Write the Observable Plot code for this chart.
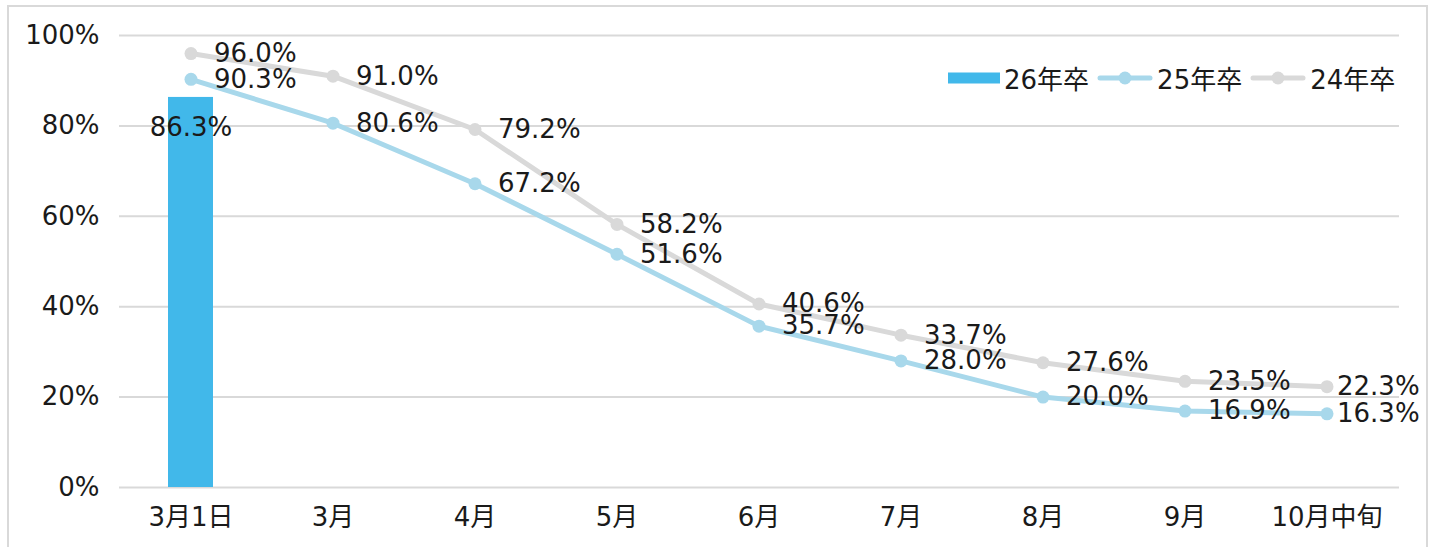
<!DOCTYPE html>
<html><head><meta charset="utf-8">
<script src="https://cdn.jsdelivr.net/npm/d3@7"></script>
<script src="https://cdn.jsdelivr.net/npm/@observablehq/plot@0.6"></script>
<style>
html,body{margin:0;padding:0;background:#fff;overflow:hidden;}
#wrap{position:relative;width:1435px;height:547px;font-family:"DejaVu Sans","Noto Sans CJK JP",sans-serif;}
#frame{position:absolute;left:7px;top:5px;width:1421px;height:600px;border:2px solid #d9d9d9;box-sizing:border-box;pointer-events:none;}
#legend{position:absolute;left:948px;top:59px;display:flex;align-items:center;font-size:26px;color:#1a1a1a;white-space:nowrap;}
#legend .item{display:flex;align-items:center;margin-right:8px;}
#legend svg{display:block;margin-right:4px;}
</style></head>
<body><div id="wrap"><div id="frame"></div><div id="legend"></div></div>
<script>
const categories = ["3月1日","3月","4月","5月","6月","7月","8月","9月","10月中旬"];
const seriesNames = ["26年卒","25年卒","24年卒"];
const grad26 = [86.3];
const grad25 = [90.3, 80.6, 67.2, 51.6, 35.7, 28.0, 20.0, 16.9, 16.3];
const grad24 = [96.0, 91.0, 79.2, 58.2, 40.6, 33.7, 27.6, 23.5, 22.3];
const yTicks = [0, 20, 40, 60, 80, 100];
const colors = {"26年卒":"#41b8ea","25年卒":"#a8d8eb","24年卒":"#d9d9d9"};

const barData = grad26.map((v,i)=>({cat:categories[i], v}));
const toRows = (arr, s) => arr.map((v,i)=>({cat:categories[i], v, s, last: i===arr.length-1}));
const d25 = toRows(grad25, "25年卒");
const d24 = toRows(grad24, "24年卒");
const fmt = v => v.toFixed(1) + "%";
const font = '"DejaVu Sans","Noto Sans CJK JP",sans-serif';

const chart = Plot.plot({
  width: 1435, height: 547,
  marginTop: 35, marginBottom: 60, marginLeft: 119, marginRight: 36,
  style: {fontFamily: font, fontSize: "26px", color: "#1a1a1a", background: "transparent", overflow: "visible"},
  x: {domain: categories, paddingInner: 0.68, paddingOuter: 0.34, label: null, tickSize: 0, tickPadding: 20},
  y: {domain: [0, 100], ticks: yTicks, label: null, tickSize: 0, tickPadding: 20, tickFormat: d => d + "%"},
  marks: [
    Plot.gridY(yTicks, {stroke: "#d9d9d9", strokeOpacity: 1, strokeWidth: 2}),
    Plot.barY(barData, {x: "cat", y: "v", fill: colors["26年卒"]}),
    Plot.line(d25, {x: "cat", y: "v", stroke: colors["25年卒"], strokeWidth: 5}),
    Plot.dot(d25, {x: "cat", y: "v", fill: colors["25年卒"], r: 6.5}),
    Plot.line(d24, {x: "cat", y: "v", stroke: colors["24年卒"], strokeWidth: 5}),
    Plot.dot(d24, {x: "cat", y: "v", fill: colors["24年卒"], r: 6.5}),
    Plot.text(barData, {x: "cat", y: "v", text: d => fmt(d.v), dy: 30, fill: "#1a1a1a", fontSize: 26}),
    Plot.text(d24.concat(d25).filter(d=>!d.last), {x: "cat", y: "v", text: d => fmt(d.v), dx: 23, textAnchor: "start", fill: "#1a1a1a", fontSize: 26}),
    Plot.text(d24.concat(d25).filter(d=>d.last), {x: "cat", y: "v", text: d => fmt(d.v), dx: 10, textAnchor: "start", fill: "#1a1a1a", fontSize: 26})
  ]
});
document.getElementById("wrap").appendChild(chart);
chart.style.position = "absolute"; chart.style.left = "0"; chart.style.top = "0";

const legend = document.getElementById("legend");
seriesNames.forEach((name, i) => {
  const item = document.createElement("div");
  item.className = "item";
  const svg = i === 0
    ? `<svg width="52" height="12"><rect x="0" y="0.5" width="52" height="11" fill="${colors[name]}"/></svg>`
    : `<svg width="56" height="14"><line x1="3" y1="7" x2="53" y2="7" stroke="${colors[name]}" stroke-width="5" stroke-linecap="round"/><circle cx="28" cy="7" r="6.5" fill="${colors[name]}"/></svg>`;
  item.innerHTML = svg + `<span>${name}</span>`;
  legend.appendChild(item);
});
</script></body></html>
